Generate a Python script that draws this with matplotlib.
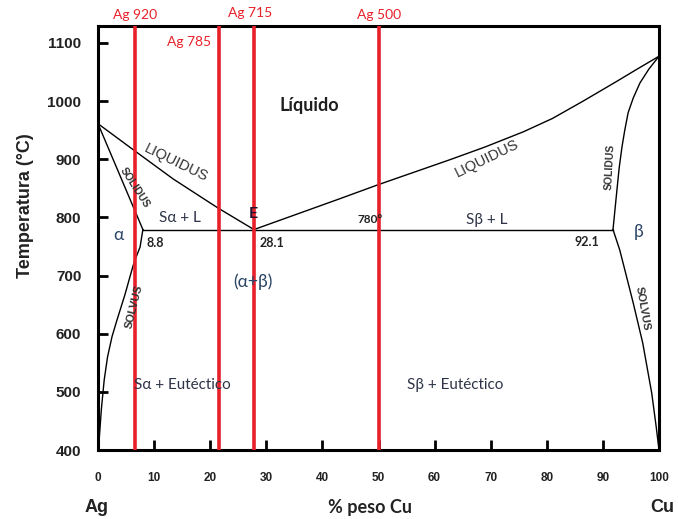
import matplotlib
matplotlib.use("Agg")
import matplotlib.pyplot as plt

# Ag-Cu phase diagram (composition in % peso Cu, temperature in C)
liq_left_x = [0, 6.6, 13.4, 21.4, 27.8]
liq_left_t = [961, 914, 866, 816, 779]

sol_left_x = [0, 8.0]
sol_left_t = [961, 779]

solvus_left_x = [8.0, 7.5, 6.6, 6.2, 5.7, 4.8, 3.4, 2.5, 1.7, 1.1, 0.6, 0.3, 0.1]
solvus_left_t = [779, 749, 727, 715, 698, 667, 624, 595, 560, 520, 470, 430, 405]

liq_right_x = [27.8, 43.1, 49.9, 62.7, 69.0, 75.8, 81.0, 86.5, 92.5, 96.3, 100]
liq_right_t = [779, 832, 856, 899, 921, 947, 970, 1000, 1034, 1056, 1077]

sol_right_x = [100, 98.2, 96.6, 95.4, 94.5, 93.9, 93.4, 92.9, 92.5, 91.8]
sol_right_t = [1077, 1055, 1031, 1005, 980, 950, 921, 885, 847, 779]

solvus_right_x = [91.8, 93.0, 93.9, 95.4, 97.1, 98.7, 99.5, 100]
solvus_right_t = [779, 744, 710, 653, 584, 498, 440, 400]

eutectic_x = [8.0, 91.8]
eutectic_t = [779, 779]

# red alloy lines
alloy_x = [6.6, 21.6, 27.8, 50.1]
alloy_labels = ["Ag 920", "Ag 785", "Ag 715", "Ag 500"]

x_ticks = [0, 10, 20, 30, 40, 50, 60, 70, 80, 90, 100]
y_ticks = [400, 500, 600, 700, 800, 900, 1000, 1100]

RED = "#e8202a"
DARK = "#2e3447"
GREEK = "#2a4466"
CAL = ["Lato", "DejaVu Sans"]
ARIAL = ["Liberation Sans", "DejaVu Sans"]

fig = plt.figure(figsize=(6.78, 5.19), dpi=100)
ax = fig.add_axes([98 / 678, 1 - 450 / 519, 561 / 678, 424 / 519])
ax.set_xlim(0, 100)
ax.set_ylim(400, 1129)

# phase boundaries
for xs, ts in [(liq_left_x, liq_left_t), (sol_left_x, sol_left_t),
               (solvus_left_x, solvus_left_t), (liq_right_x, liq_right_t),
               (sol_right_x, sol_right_t), (solvus_right_x, solvus_right_t),
               (eutectic_x, eutectic_t)]:
    ax.plot(xs, ts, color="black", lw=1.0, zorder=2, solid_joinstyle="round")

# red vertical lines
for x in alloy_x:
    ax.axvline(x, color=RED, lw=2.6, zorder=3)

ax.text(alloy_x[0], 1148, alloy_labels[0], color=RED, fontsize=10, family=CAL,
        ha="center", va="center", clip_on=False)
ax.text(20.1, 1102, alloy_labels[1], color=RED, fontsize=10, family=CAL,
        ha="right", va="center")
ax.text(alloy_x[2] - 0.7, 1152, alloy_labels[2], color=RED, fontsize=10, family=CAL,
        ha="center", va="center", clip_on=False)
ax.text(alloy_x[3], 1148, alloy_labels[3], color=RED, fontsize=10, family=CAL,
        ha="center", va="center", clip_on=False)

# frame and ticks
for s in ax.spines.values():
    s.set_linewidth(2.2)
ax.set_xticks(x_ticks)
ax.set_yticks(y_ticks)
ax.tick_params(axis="x", direction="in", length=7, width=2, pad=16,
               labelsize=8.5)
ax.tick_params(axis="y", direction="in", length=7, width=2, pad=12,
               labelsize=11)
for lab in ax.get_xticklabels() + ax.get_yticklabels():
    lab.set_fontweight("bold")
    lab.set_family(ARIAL)
    lab.set_color("#222222")

# region labels
ax.text(37.6, 993, "Líquido", fontsize=13, fontweight="bold", family=CAL,
        color="#1e1e1e", ha="center", va="center")
ax.text(13.9, 894, "LIQUIDUS", fontsize=10.5, family=ARIAL, color="#333333",
        rotation=-26, ha="center", va="center")
ax.text(69.3, 902, "LIQUIDUS", fontsize=10.5, family=ARIAL, color="#333333",
        rotation=26, ha="center", va="center")
ax.text(6.6, 851, "SOLIDUS", fontsize=7.5, fontweight="bold", family=ARIAL,
        color="#333333", rotation=-57, ha="center", va="center")
ax.text(91.3, 887, "SOLIDUS", fontsize=7.5, fontweight="bold", family=ARIAL,
        color="#333333", rotation=87, ha="center", va="center")
ax.text(6.4, 646, "SOLVUS", fontsize=8, fontweight="bold", family=ARIAL,
        color="#333333", rotation=76, ha="center", va="center")
ax.text(97.1, 644, "SOLVUS", fontsize=8, fontweight="bold", family=ARIAL,
        color="#333333", rotation=-80, ha="center", va="center")

ax.text(14.6, 799, "Sα + L", fontsize=11, family=CAL, color=DARK,
        ha="center", va="center")
ax.text(69.3, 796, "Sβ + L", fontsize=11, family=CAL, color=DARK,
        ha="center", va="center")
ax.text(27.6, 805, "E", fontsize=11.5, fontweight="bold", family=CAL,
        color="#2a1030", ha="center", va="center")
ax.text(3.7, 770, "α", fontsize=12.5, family=CAL, color=GREEK,
        ha="center", va="center")
ax.text(96.3, 775, "β", fontsize=12.5, family=CAL, color=GREEK,
        ha="center", va="center")
ax.text(10.2, 756, "8.8", fontsize=9, fontweight="bold", family=CAL,
        color="#222222", ha="center", va="center")
ax.text(31.0, 756, "28.1", fontsize=9, fontweight="bold", family=CAL,
        color="#222222", ha="center", va="center")
ax.text(87.2, 758, "92.1", fontsize=9, fontweight="bold", family=CAL,
        color="#222222", ha="center", va="center")
ax.text(48.5, 796, "780°", fontsize=8.5, fontweight="bold", family=CAL,
        color="#222222", ha="center", va="center")
ax.text(27.6, 689, "(α+β)", fontsize=12.5, family=CAL, color=GREEK,
        ha="center", va="center")
ax.text(15.0, 512, "Sα + Eutéctico", fontsize=11, family=CAL, color=DARK,
        ha="center", va="center")
ax.text(63.6, 512, "Sβ + Eutéctico", fontsize=11, family=CAL, color=DARK,
        ha="center", va="center")

# axis titles
fig.text(25 / 678, 1 - 206 / 519, "Temperatura (°C)", rotation=90,
         fontsize=13, fontweight="bold", family=ARIAL, color="#222222",
         ha="center", va="center")
fig.text(97 / 678, 1 - 507 / 519, "Ag", fontsize=13, fontweight="bold",
         family=ARIAL, color="#222222", ha="center", va="center")
fig.text(662 / 678, 1 - 507 / 519, "Cu", fontsize=13, fontweight="bold",
         family=ARIAL, color="#222222", ha="center", va="center")
fig.text(370 / 678, 1 - 507 / 519, "% peso Cu", fontsize=13, fontweight="bold",
         family=CAL, color="#222222", ha="center", va="center")

fig.savefig("out.png", dpi=100)
